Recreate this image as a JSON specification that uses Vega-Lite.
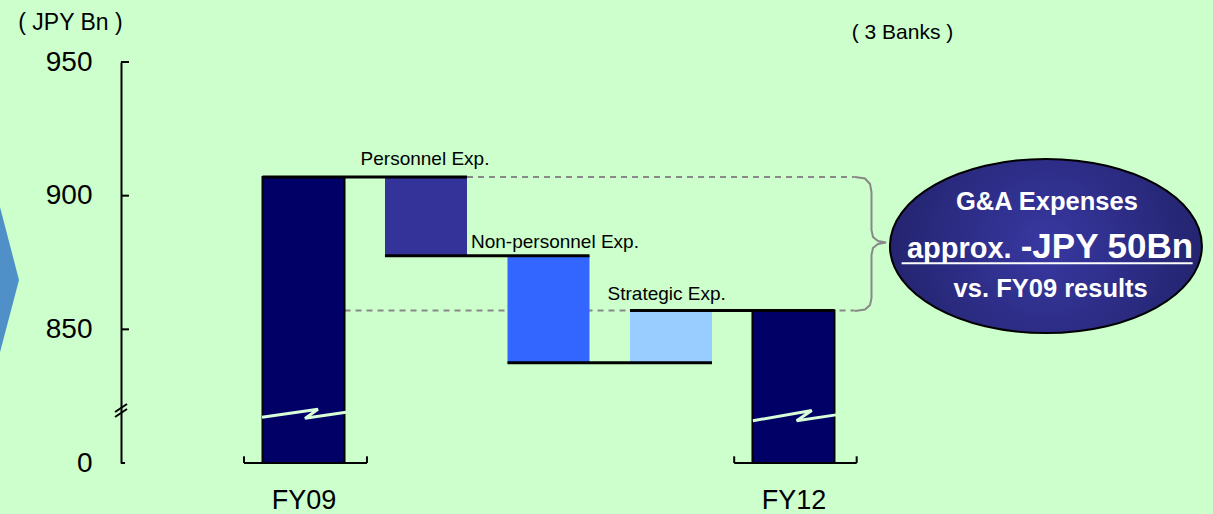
{
  "$schema": "https://vega.github.io/schema/vega-lite/v6.json",
  "width": 1092,
  "height": 401,
  "autosize": {"type": "none"},
  "padding": {"left": 121, "top": 62, "right": 0, "bottom": 51},
  "background": "#ccffcc",
  "config": {"view": {"stroke": null}, "font": "Liberation Sans"},
  "datasets": {
    "arrow": [
      {"x": -1.5, "y": 899.7, "y2": 837.6},
      {"x": -1.3227, "y": 868.45, "y2": 868.45}
    ],
    "dashed": [
      {"x": 2.335, "x2": 5.5, "y": 907},
      {"x": 1.335, "x2": 5.5, "y": 857}
    ],
    "brace": [
      {"i": 1, "x": 5.502, "y": 906.98},
      {"i": 2, "x": 5.584, "y": 906.42},
      {"i": 3, "x": 5.625, "y": 904.37},
      {"i": 4, "x": 5.637, "y": 901.37},
      {"i": 5, "x": 5.637, "y": 887.16},
      {"i": 6, "x": 5.649, "y": 884.54},
      {"i": 7, "x": 5.69, "y": 883.04},
      {"i": 8, "x": 5.756, "y": 882.48},
      {"i": 9, "x": 5.69, "y": 881.92},
      {"i": 10, "x": 5.649, "y": 880.42},
      {"i": 11, "x": 5.637, "y": 877.81},
      {"i": 12, "x": 5.637, "y": 861.72},
      {"i": 13, "x": 5.625, "y": 859.1},
      {"i": 14, "x": 5.584, "y": 857.42},
      {"i": 15, "x": 5.502, "y": 856.86}
    ],
    "bars": [
      {"x": 1, "y": 800, "y2": 907, "item": "FY09", "type": "total"},
      {"x": 2, "y": 907, "y2": 877.5, "item": "Personnel Exp.", "type": "step"},
      {"x": 3, "y": 877.5, "y2": 837.5, "item": "Non-personnel Exp.", "type": "step"},
      {"x": 4, "y": 837.5, "y2": 857, "item": "Strategic Exp.", "type": "step"},
      {"x": 5, "y": 800, "y2": 857, "item": "FY12", "type": "total"}
    ],
    "zigzag": [
      {"bar": "FY09", "i": 1, "x": 0.661, "y": 817.1},
      {"bar": "FY09", "i": 2, "x": 1.118, "y": 820.1},
      {"bar": "FY09", "i": 3, "x": 1.012, "y": 816.7},
      {"bar": "FY09", "i": 4, "x": 1.347, "y": 819.0},
      {"bar": "FY12", "i": 1, "x": 4.669, "y": 815.8},
      {"bar": "FY12", "i": 2, "x": 5.149, "y": 819.6},
      {"bar": "FY12", "i": 3, "x": 5.026, "y": 815.8},
      {"bar": "FY12", "i": 4, "x": 5.347, "y": 818.0}
    ],
    "connectors": [
      {"x": 0.665, "x2": 2.335, "y": 907},
      {"x": 1.665, "x2": 3.335, "y": 877.5},
      {"x": 2.665, "x2": 4.335, "y": 837.5},
      {"x": 3.665, "x2": 5.335, "y": 857}
    ],
    "segments": [
      {"x": -0.49, "x2": -0.425, "y": 950, "y2": 950},
      {"x": -0.49, "x2": -0.425, "y": 900, "y2": 900},
      {"x": -0.49, "x2": -0.425, "y": 850, "y2": 850},
      {"x": -0.49, "x2": -0.457, "y": 800, "y2": 800},
      {"x": -0.539, "x2": -0.441, "y": 819.08, "y2": 822.07},
      {"x": -0.539, "x2": -0.441, "y": 817.21, "y2": 820.2},
      {"x": 0.514, "x2": 1.518, "y": 800, "y2": 800},
      {"x": 0.514, "x2": 0.514, "y": 800, "y2": 802.5},
      {"x": 1.518, "x2": 1.518, "y": 800, "y2": 802.5},
      {"x": 4.516, "x2": 5.516, "y": 800, "y2": 800},
      {"x": 4.516, "x2": 4.516, "y": 800, "y2": 802.5},
      {"x": 5.516, "x2": 5.516, "y": 800, "y2": 802.5}
    ],
    "steplabels": [
      {"label": "Personnel Exp.", "x": 1.992, "y": 911.5},
      {"label": "Non-personnel Exp.", "x": 3.053, "y": 880.3},
      {"label": "Strategic Exp.", "x": 3.965, "y": 861.0}
    ],
    "note": [{"label": "( 3 Banks )", "x": 5.89, "y": 958.5}],
    "oval": [{"x": 7.061, "y": 881.17}],
    "ovaltext": [
      {"label": "G&A Expenses", "x": 7.069, "y": 894.64},
      {"label": "vs. FY09 results", "x": 7.1, "y": 861.98}
    ],
    "approx": [{"label": "approx.", "x": 6.781, "y": 876.57}],
    "amount": [{"label": "-JPY 50Bn", "x": 6.855, "y": 876.57}],
    "underline": [{"x": 5.883, "x2": 8.259, "y": 874.7}]
  },
  "encoding": {
    "x": {
      "field": "x",
      "type": "quantitative",
      "scale": {"domain": [-0.49, 8.425], "nice": false, "zero": false, "padding": 0},
      "axis": {
        "values": [1, 5],
        "labelExpr": "datum.value == 1 ? 'FY09' : 'FY12'",
        "title": null,
        "domain": false,
        "ticks": false,
        "grid": false,
        "labelFontSize": 27,
        "labelFont": "Liberation Sans",
        "labelPadding": 24,
        "labelColor": "black",
        "labelFlush": false,
        "labelOverlap": false
      }
    },
    "y": {
      "field": "y",
      "type": "quantitative",
      "scale": {"domain": [800, 950], "nice": false, "zero": false, "padding": 0},
      "axis": {
        "values": [800, 850, 900, 950],
        "format": "d",
        "labelExpr": "datum.value == 800 ? '0' : datum.label",
        "title": "( JPY Bn )",
        "titleAngle": 0,
        "titleX": -51,
        "titleY": -33,
        "titleAlign": "center",
        "titleBaseline": "alphabetic",
        "titleFontSize": 23,
        "titleFontWeight": "normal",
        "titleFont": "Liberation Sans",
        "titleColor": "black",
        "labelFontSize": 28,
        "labelFont": "Liberation Sans",
        "labelColor": "black",
        "labelPadding": 29,
        "labelFlush": false,
        "labelOverlap": false,
        "ticks": false,
        "grid": false,
        "domainColor": "black",
        "domainWidth": 2
      }
    }
  },
  "layer": [
    {
      "data": {"name": "arrow"},
      "mark": {"type": "area", "orient": "vertical", "color": "#4f90c9", "opacity": 1},
      "encoding": {"y2": {"field": "y2"}}
    },
    {
      "data": {"name": "dashed"},
      "mark": {"type": "rule", "color": "#888888", "strokeWidth": 2, "strokeDash": [6, 5]},
      "encoding": {"x2": {"field": "x2"}}
    },
    {
      "data": {"name": "brace"},
      "mark": {"type": "line", "color": "#888888", "strokeWidth": 2, "interpolate": "linear"},
      "encoding": {"order": {"field": "i", "type": "quantitative"}}
    },
    {
      "data": {"name": "bars"},
      "mark": {"type": "bar", "orient": "vertical", "width": 82, "stroke": "black"},
      "encoding": {
        "y2": {"field": "y2"},
        "fill": {
          "field": "item",
          "type": "nominal",
          "scale": {
            "domain": ["FY09", "Personnel Exp.", "Non-personnel Exp.", "Strategic Exp.", "FY12"],
            "range": ["#000066", "#333399", "#3366ff", "#99ccff", "#000066"]
          },
          "legend": null
        },
        "strokeWidth": {"condition": {"test": "datum.type === 'total'", "value": 2}, "value": 0}
      }
    },
    {
      "data": {"name": "zigzag"},
      "mark": {"type": "line", "color": "#d8ffd8", "strokeWidth": 3, "interpolate": "linear"},
      "encoding": {
        "detail": {"field": "bar", "type": "nominal"},
        "order": {"field": "i", "type": "quantitative"}
      }
    },
    {
      "data": {"name": "connectors"},
      "mark": {"type": "rule", "color": "black", "strokeWidth": 3},
      "encoding": {"x2": {"field": "x2"}}
    },
    {
      "data": {"name": "segments"},
      "mark": {"type": "rule", "color": "black", "strokeWidth": 2},
      "encoding": {"x2": {"field": "x2"}, "y2": {"field": "y2"}}
    },
    {
      "data": {"name": "steplabels"},
      "mark": {"type": "text", "font": "Liberation Sans", "fontSize": 19, "align": "center", "baseline": "alphabetic", "color": "black"},
      "encoding": {"text": {"field": "label"}}
    },
    {
      "data": {"name": "note"},
      "mark": {"type": "text", "font": "Liberation Sans", "fontSize": 21, "align": "center", "baseline": "alphabetic", "color": "black"},
      "encoding": {"text": {"field": "label"}}
    },
    {
      "data": {"name": "oval"},
      "mark": {
        "type": "point",
        "filled": true,
        "opacity": 1,
        "size": 97344,
        "shape": "M -1 0 C -1 -0.308 -0.552 -0.558 0 -0.558 C 0.552 -0.558 1 -0.308 1 0 C 1 0.308 0.552 0.558 0 0.558 C -0.552 0.558 -1 0.308 -1 0 Z",
        "fill": {"gradient": "radial", "stops": [{"offset": 0, "color": "#3838a2"}, {"offset": 1, "color": "#242470"}]},
        "stroke": "black",
        "strokeWidth": 2
      }
    },
    {
      "data": {"name": "ovaltext"},
      "mark": {"type": "text", "font": "Liberation Sans", "fontWeight": "bold", "fontSize": 25.5, "align": "center", "baseline": "alphabetic", "color": "white"},
      "encoding": {"text": {"field": "label"}}
    },
    {
      "data": {"name": "approx"},
      "mark": {"type": "text", "font": "Liberation Sans", "fontWeight": "bold", "fontSize": 29, "align": "right", "baseline": "alphabetic", "color": "white"},
      "encoding": {"text": {"field": "label"}}
    },
    {
      "data": {"name": "amount"},
      "mark": {"type": "text", "font": "Liberation Sans", "fontWeight": "bold", "fontSize": 35, "align": "left", "baseline": "alphabetic", "color": "white"},
      "encoding": {"text": {"field": "label"}}
    },
    {
      "data": {"name": "underline"},
      "mark": {"type": "rule", "color": "white", "strokeWidth": 2},
      "encoding": {"x2": {"field": "x2"}}
    }
  ]
}
